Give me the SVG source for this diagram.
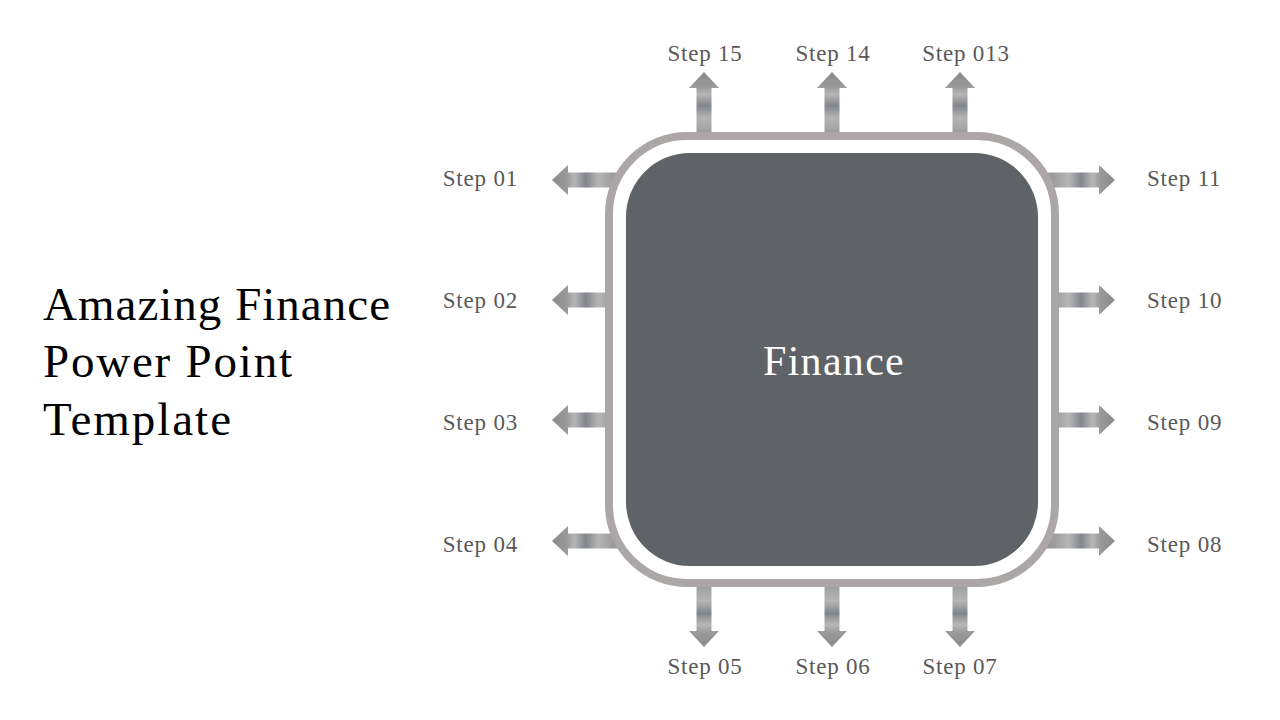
<svg xmlns="http://www.w3.org/2000/svg" xmlns:xlink="http://www.w3.org/1999/xlink" width="1280" height="720" viewBox="0 0 1280 720">
<style>
.step{font-family:"Liberation Serif","Times New Roman",serif;font-size:23px;fill:#595959;letter-spacing:0.8px}
.title{font-family:"Liberation Serif","Times New Roman",serif;font-size:47px;fill:#000}
.center{font-family:"Liberation Serif","Times New Roman",serif;font-size:42px;fill:#fff;letter-spacing:1.3px}
</style>
<defs>
<linearGradient id="ag" x1="0" y1="0" x2="1" y2="0">
<stop offset="0" stop-color="#8a8a8a"/>
<stop offset="0.18" stop-color="#999"/>
<stop offset="0.28" stop-color="#b6b6b6"/>
<stop offset="0.42" stop-color="#82868b"/>
<stop offset="0.58" stop-color="#b6b6b6"/>
<stop offset="0.76" stop-color="#9c9c9c"/>
<stop offset="1" stop-color="#909090"/>
</linearGradient>
<path id="arrow" d="M0,0 L16,-15 L16,-7.5 L80,-7.5 L80,7.5 L16,7.5 L16,15 Z" fill="url(#ag)"/>
</defs>
<rect width="1280" height="720" fill="#fff"/>
<g id="connectors">
<use xlink:href="#arrow" transform="translate(552,180)"/>
<use xlink:href="#arrow" transform="translate(552,300)"/>
<use xlink:href="#arrow" transform="translate(552,420)"/>
<use xlink:href="#arrow" transform="translate(552,541)"/>
<use xlink:href="#arrow" transform="translate(1115,180) rotate(180)"/>
<use xlink:href="#arrow" transform="translate(1115,300) rotate(180)"/>
<use xlink:href="#arrow" transform="translate(1115,420) rotate(180)"/>
<use xlink:href="#arrow" transform="translate(1115,541) rotate(180)"/>
<use xlink:href="#arrow" transform="translate(704,72) rotate(90)"/>
<use xlink:href="#arrow" transform="translate(832,72) rotate(90)"/>
<use xlink:href="#arrow" transform="translate(960,72) rotate(90)"/>
<use xlink:href="#arrow" transform="translate(704,647) rotate(-90)"/>
<use xlink:href="#arrow" transform="translate(832,647) rotate(-90)"/>
<use xlink:href="#arrow" transform="translate(960,647) rotate(-90)"/>
</g>
<g id="finance">
<rect x="609" y="136" width="446" height="447" rx="78" ry="78" fill="#fff" stroke="#aba7a7" stroke-width="8"/>
<rect x="626" y="153" width="412" height="413" rx="64" ry="64" fill="#5f6267"/>
<text class="center" x="834" y="375" text-anchor="middle">Finance</text>
</g>
<g id="title">
<text class="title" x="43" y="320" textLength="347" lengthAdjust="spacing">Amazing Finance</text>
<text class="title" x="43" y="377" textLength="249" lengthAdjust="spacing">Power Point</text>
<text class="title" x="43" y="435" textLength="188" lengthAdjust="spacing">Template</text>
</g>
<g id="step01"><text class="step" x="518" y="186" text-anchor="end">Step 01</text></g>
<g id="step02"><text class="step" x="518" y="308" text-anchor="end">Step 02</text></g>
<g id="step03"><text class="step" x="518" y="430" text-anchor="end">Step 03</text></g>
<g id="step04"><text class="step" x="518" y="552" text-anchor="end">Step 04</text></g>
<g id="step05"><text class="step" x="705" y="674" text-anchor="middle">Step 05</text></g>
<g id="step06"><text class="step" x="833" y="674" text-anchor="middle">Step 06</text></g>
<g id="step07"><text class="step" x="960" y="674" text-anchor="middle">Step 07</text></g>
<g id="step08"><text class="step" x="1147" y="552">Step 08</text></g>
<g id="step09"><text class="step" x="1147" y="430">Step 09</text></g>
<g id="step10"><text class="step" x="1147" y="308">Step 10</text></g>
<g id="step11"><text class="step" x="1147" y="186">Step 11</text></g>
<g id="step013"><text class="step" x="966" y="61" text-anchor="middle">Step 013</text></g>
<g id="step14"><text class="step" x="833" y="61" text-anchor="middle">Step 14</text></g>
<g id="step15"><text class="step" x="705" y="61" text-anchor="middle">Step 15</text></g>
</svg>
